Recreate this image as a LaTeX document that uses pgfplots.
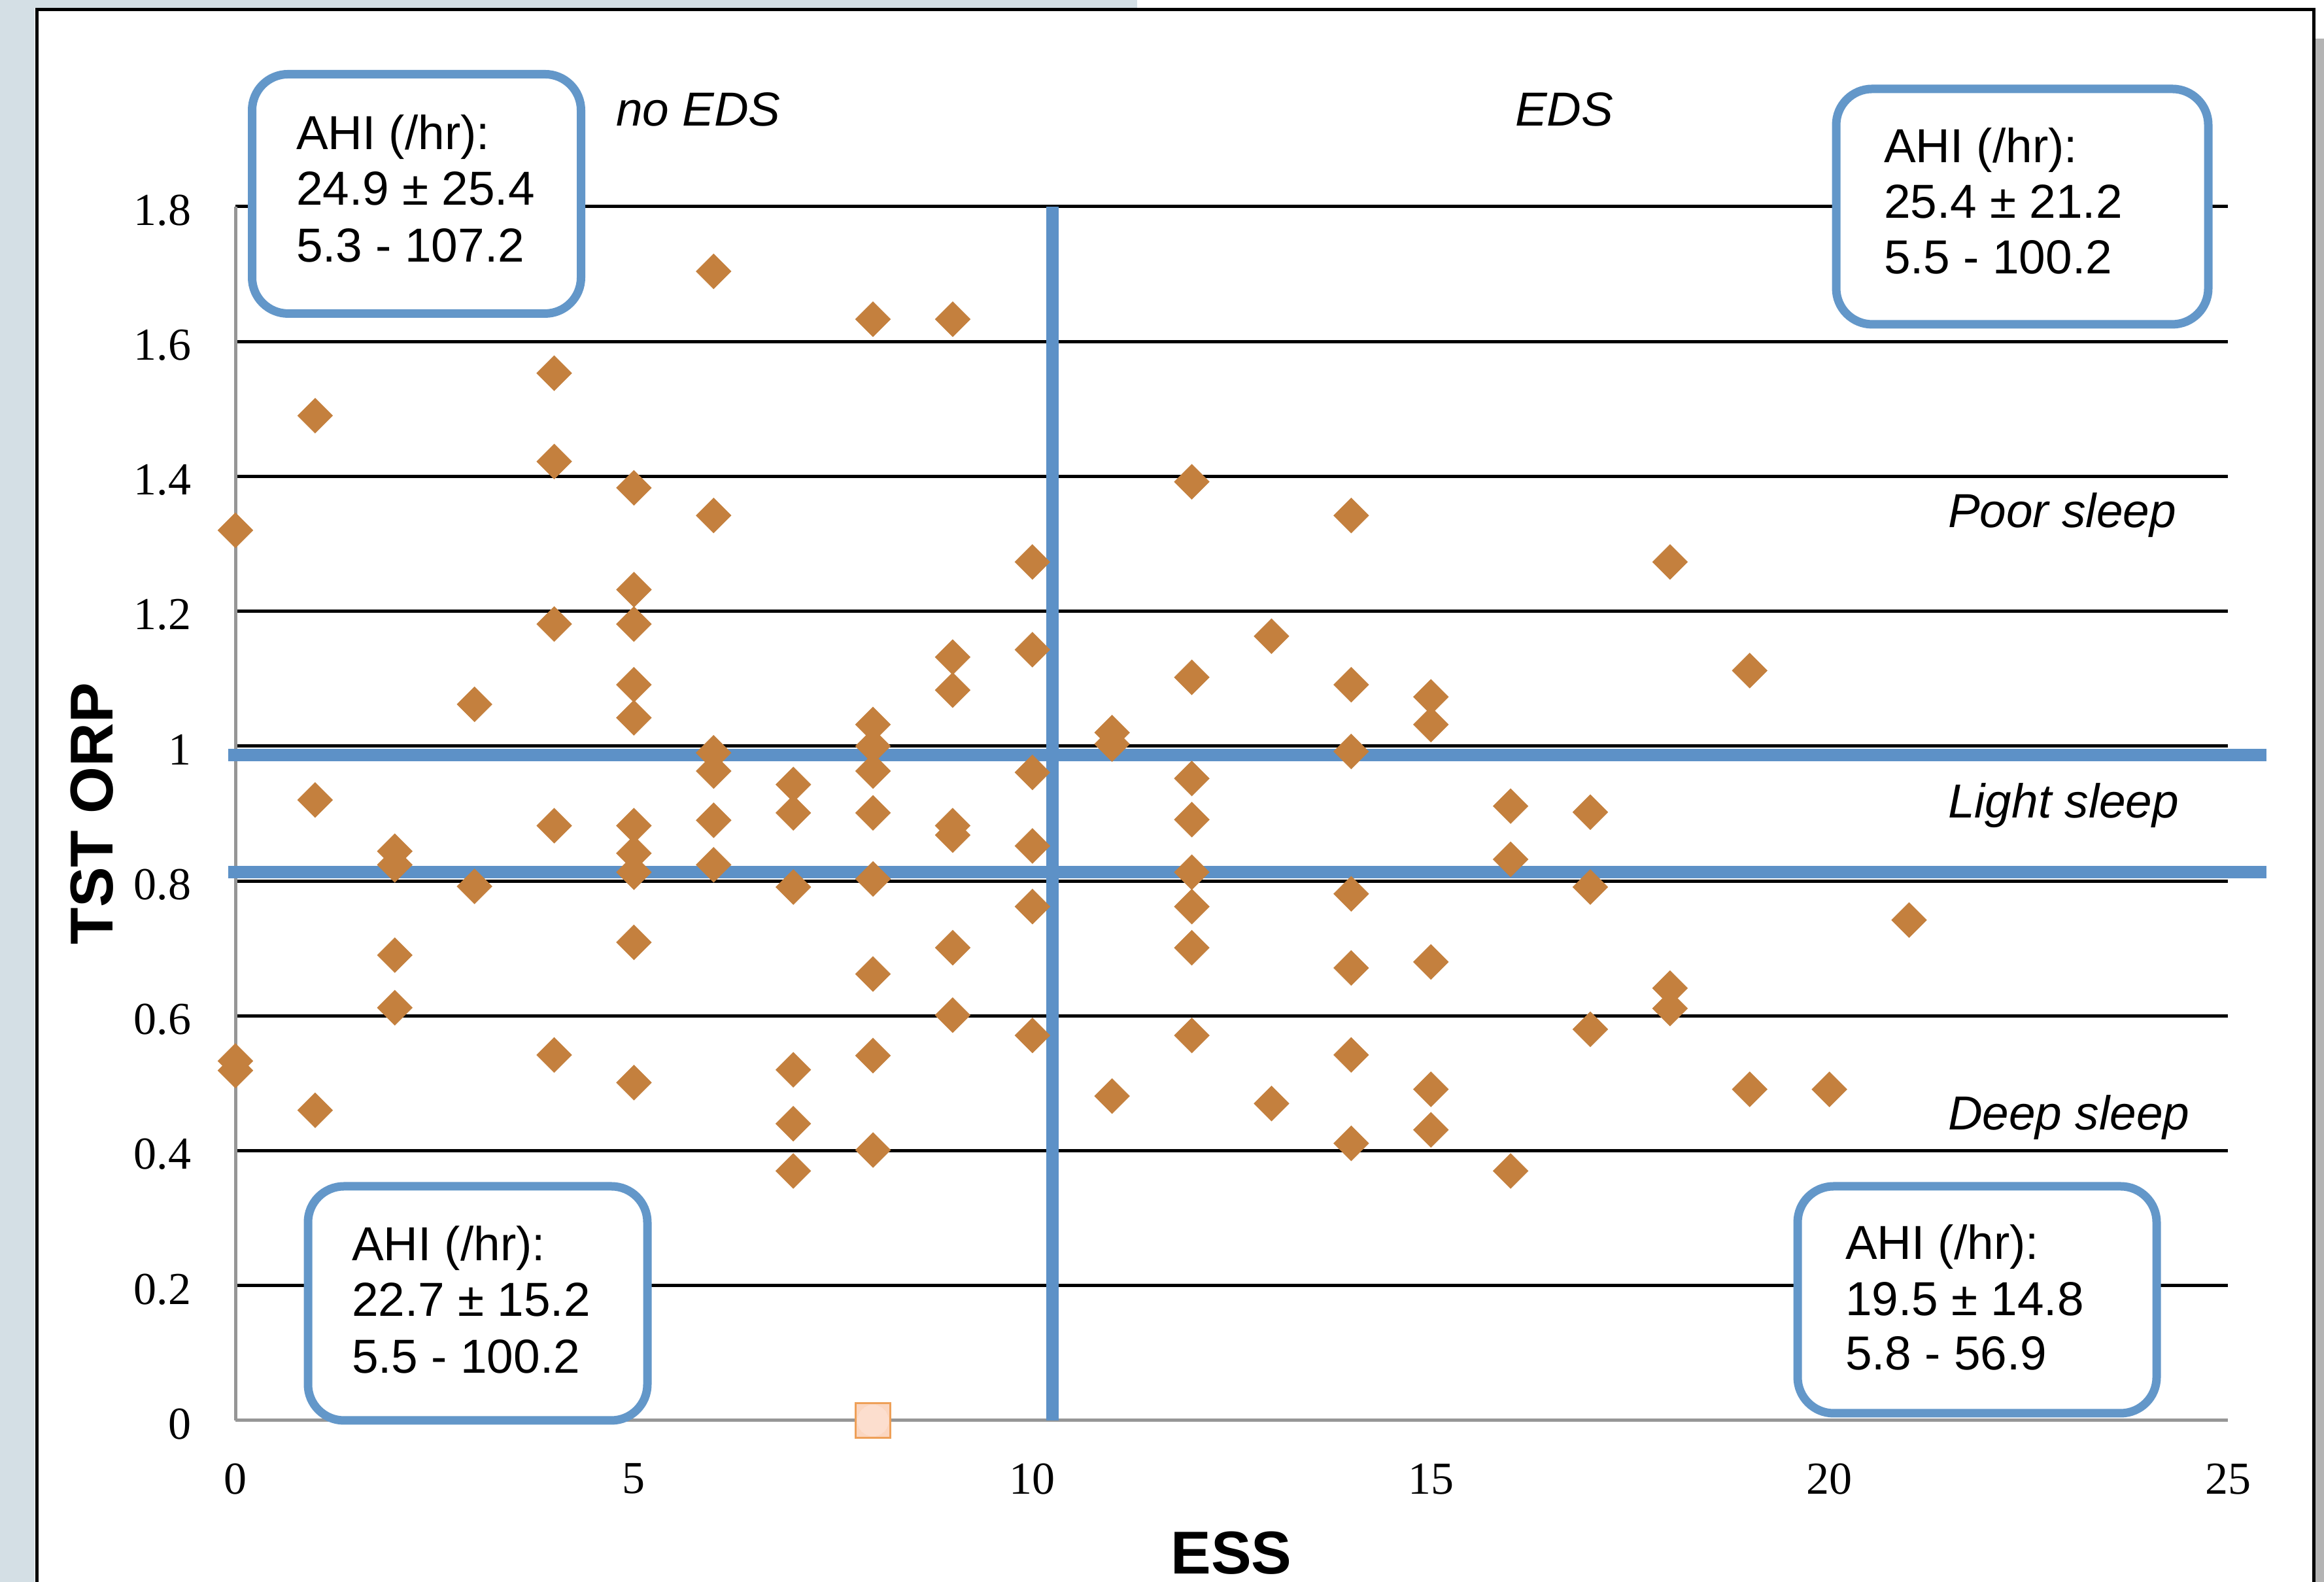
\documentclass[border=0pt]{standalone}
\usepackage{fontspec}
\setmainfont{Liberation Sans}
\newfontfamily\tnr{Liberation Serif}
\usepackage{pgfplots}
\pgfplotsset{compat=1.18}
\definecolor{dia}{RGB}{196,128,62}
\definecolor{refblue}{RGB}{93,145,199}
\definecolor{boxblue}{RGB}{99,151,201}
\definecolor{bggrey}{RGB}{212,223,229}
\definecolor{rgrey}{RGB}{180,180,180}
\definecolor{axgrey}{RGB}{150,150,150}
\definecolor{peach}{RGB}{251,214,192}
\definecolor{peachlight}{RGB}{252,222,206}
\definecolor{peachedge}{RGB}{238,160,88}
\newcommand{\boxfont}{\fontsize{14.6bp}{17bp}\selectfont}
\newcommand{\labfont}{\bfseries\fontsize{18.5bp}{20bp}\selectfont}
\begin{document}
\begin{tikzpicture}[x=1bp,y=1bp]
\useasboundingbox (0,0) rectangle (710.8,483.8);
\fill[white] (0,0) rectangle (710.8,483.8);
\fill[bggrey] (0,0) rectangle (10.6,483.8);
\fill[bggrey] (0,481.4) rectangle (347.8,483.8);
\fill[rgrey] (708.2,0) rectangle (710.8,472);
\draw[line width=1bp] (11.2,0) -- (11.2,480.9) -- (707.6,480.9) -- (707.6,0);
\begin{axis}[
  at={(72bp,49.4bp)}, anchor=south west,
  scale only axis, width=609.4bp, height=371.2bp,
  xmin=0, xmax=25, ymin=0, ymax=1.8,
  xtick={0,5,10,15,20,25},
  ytick={0,0.2,0.4,0.6,0.8,1,1.2,1.4,1.6,1.8},
  /pgf/number format/assume math mode=true,
  axis x line*=bottom, axis y line*=left,
  axis line style={draw=axgrey, line width=1bp, -},
  major tick length=0pt,
  ymajorgrids, grid style={black, line width=1bp},
  clip=false,
  xticklabel style={font=\tnr\fontsize{14bp}{16bp}\selectfont, anchor=north, inner sep=0pt, yshift=-13bp},
  yticklabel style={font=\tnr\fontsize{14bp}{16bp}\selectfont, anchor=east, inner sep=0pt, xshift=-13.4bp, yshift=-1.1bp},
]
\addplot[only marks, mark=square*, mark size=3.75bp,
  mark options={rotate=45, fill=dia, draw=dia, line width=0.2bp}] table {
x y
0 1.32
0 0.533
0 0.519
1 1.49
1 0.92
1 0.46
2 0.844
2 0.824
2 0.69
2 0.612
3 1.062
3 0.792
4 1.553
4 1.422
4 1.181
4 0.882
4 0.542
5 1.383
5 1.232
5 1.181
5 1.091
5 1.042
5 0.882
5 0.841
5 0.813
5 0.709
5 0.501
6 1.704
6 1.342
6 0.99
6 0.963
6 0.89
6 0.824
7 0.943
7 0.901
7 0.791
7 0.52
7 0.44
7 0.37
8 1.633
8 1.032
8 1.0
8 0.963
8 0.901
8 0.803
8 0.662
8 0.541
8 0.401
9 1.633
9 1.132
9 1.083
9 0.882
9 0.868
9 0.701
9 0.601
10 1.273
10 1.143
10 0.961
10 0.852
10 0.762
10 0.571
11 1.02
11 1.003
11 0.481
12 1.392
12 1.102
12 0.952
12 0.891
12 0.813
12 0.762
12 0.701
12 0.571
13 1.163
13 0.47
14 1.342
14 1.091
14 0.992
14 0.781
14 0.671
14 0.542
14 0.411
15 1.073
15 1.032
15 0.68
15 0.491
15 0.431
16 0.911
16 0.832
16 0.37
17 0.902
17 0.791
17 0.58
18 1.273
18 0.641
18 0.611
19 1.112
19 0.491
20 0.491
21 0.742
};
\addplot[only marks, color=peachedge, mark=square*, mark size=5.3bp,
  mark options={fill=peach, draw=peachedge, line width=0.6bp}] coordinates {(8,0)};
\addplot[only marks, color=peachlight, mark=*, mark size=4.7bp,
  mark options={fill=peachlight, draw=peachlight, line width=0pt}] coordinates {(8,0)};
\addplot[refblue, line width=3.8bp, no marks] coordinates {(10.25,0) (10.25,1.8)};
\addplot[refblue, line width=3.9bp, no marks] coordinates {(-0.09,0.987) (25.48,0.987)};
\addplot[refblue, line width=3.9bp, no marks] coordinates {(-0.09,0.813) (25.48,0.813)};
\end{axis}
% annotation boxes
\draw[boxblue, line width=2.6bp, fill=white, rounded corners=11bp] (77.1,387.9) rectangle (177.7,461.1);
\draw[boxblue, line width=2.6bp, fill=white, rounded corners=11bp] (561.6,384.6) rectangle (675.4,456.6);
\draw[boxblue, line width=2.6bp, fill=white, rounded corners=11bp] (94.2,49.4) rectangle (198,121);
\draw[boxblue, line width=2.6bp, fill=white, rounded corners=11bp] (549.8,51.6) rectangle (659.6,121);
\begin{scope}[every node/.style={anchor=base west, inner sep=0pt, font=\boxfont}]
\node at (90.4,438) {AHI (/hr):};
\node at (90.4,421) {24.9 ± 25.4};
\node at (90.4,403.6) {5.3 - 107.2};
\node at (576,434) {AHI (/hr):};
\node at (576,417) {25.4 ± 21.2};
\node at (576,400) {5.5 - 100.2};
\node at (107.4,98.2) {AHI (/hr):};
\node at (107.4,81.2) {22.7 ± 15.2};
\node at (107.4,63.8) {5.5 - 100.2};
\node at (564.2,98.6) {AHI (/hr):};
\node at (564.2,81.4) {19.5 ± 14.8};
\node at (564.2,64.8) {5.8 - 56.9};
\node at (188.2,445.2) {\itshape no EDS};
\node at (463.2,445.2) {\itshape EDS};
\node at (595.6,322.4) {\itshape Poor sleep};
\node at (595.6,233.6) {\itshape Light sleep};
\node at (595.6,138.2) {\itshape Deep sleep};
\end{scope}
\node[rotate=90, anchor=base, inner sep=0pt, font=\labfont] at (34.4,235) {TST ORP};
\node[anchor=base, inner sep=0pt, font=\labfont] at (376.6,2.4) {ESS};
\end{tikzpicture}
\end{document}
